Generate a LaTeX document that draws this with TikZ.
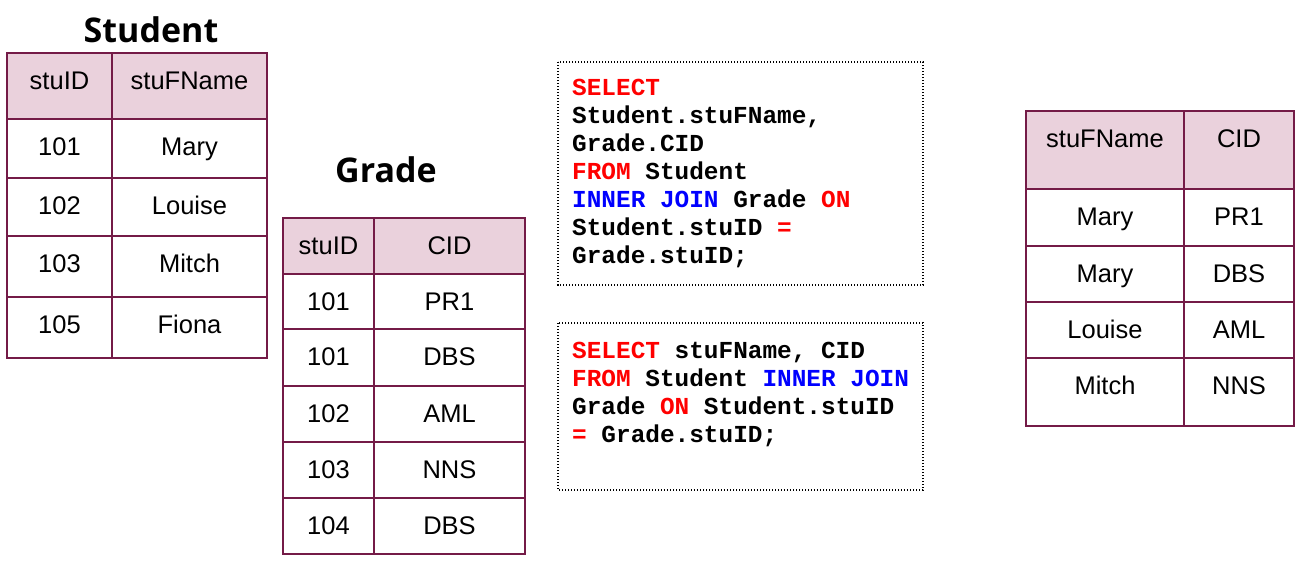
\documentclass[tikz,border=0pt]{standalone}
\usepackage{fontspec}
\setmainfont{Liberation Sans}
\newfontfamily\codefont{Liberation Mono}
\newfontfamily\titlefont{Open Sans}
\definecolor{tabline}{HTML}{741B47}
\definecolor{headpink}{HTML}{EAD1DC}
\definecolor{sqlred}{HTML}{FF0000}
\definecolor{sqlblue}{HTML}{0000FF}
\newcommand{\kwred}[1]{\textcolor{sqlred}{#1}}
\newcommand{\kwblue}[1]{\textcolor{sqlblue}{#1}}
\tikzset{
  cellrule/.style={draw=tabline, line width=1.2pt},
  tableframe/.style={draw=tabline, line width=1.6pt},
  headfill/.style={fill=headpink},
  celltext/.style={font=\fontsize{25.5}{28}\selectfont, anchor=base, inner sep=0pt},
  tabletitle/.style={font=\titlefont\bfseries\fontsize{34}{36}\selectfont, anchor=base, inner sep=0pt},
  codeline/.style={font=\codefont\bfseries\fontsize{24.4}{28}\selectfont, anchor=base west, inner sep=0pt},
  codebox/.style={draw=black, line width=1.2pt, dash pattern=on 1.2pt off 1.8pt}
}

\begin{document}
\begin{tikzpicture}[x=1pt, y=-1pt]
  \useasboundingbox (0,0) rectangle (1303,562);

  % Student table
  \node[tabletitle] (studenttitle) at (151,42) {Student};
  \fill[headfill] (7,53) rectangle (267,119);
  \foreach \y in {119,178,236,297}
    \draw[cellrule] (7,\y) -- (267,\y);
  \draw[cellrule] (112,53) -- (112,358);
  \draw[tableframe] (7,53) rectangle (267,358);
  \foreach \t/\a/\b [count=\i] in {53/stuID/stuFName, 119/101/Mary,
      178/102/Louise, 236/103/Mitch, 297/105/Fiona} {
    \node[celltext] (stu-\i-a) at (59.5,{\t+36.5}) {\a};
    \node[celltext] (stu-\i-b) at (189.5,{\t+36.5}) {\b};
  }

  % Grade table
  \node[tabletitle] (gradetitle) at (386,182) {Grade};
  \fill[headfill] (283,218) rectangle (525,274);
  \foreach \y in {274,329,386,442,498}
    \draw[cellrule] (283,\y) -- (525,\y);
  \draw[cellrule] (374,218) -- (374,554);
  \draw[tableframe] (283,218) rectangle (525,554);
  \foreach \t/\a/\b [count=\i] in {218/stuID/CID, 274/101/PR1,
      329/101/DBS, 386/102/AML, 442/103/NNS, 498/104/DBS} {
    \node[celltext] (grd-\i-a) at (328.5,{\t+36.5}) {\a};
    \node[celltext] (grd-\i-b) at (449.5,{\t+36.5}) {\b};
  }

  % query with table prefixes
  \draw[codebox] (558,62) rectangle (923,285);
  \foreach \ln [count=\i] in {{\kwred{SELECT}}, {Student.stuFName,},
      {Grade.CID}, {\kwred{FROM} Student},
      {\kwblue{INNER JOIN} Grade \kwred{ON}}, {Student.stuID \kwred{=}},
      {Grade.stuID;}}
    \node[codeline] (sqla-\i) at (572,{95+28*(\i-1)}) {\ln};

  % short query
  \draw[codebox] (558,323) rectangle (923,490);
  \foreach \ln [count=\i] in {{\kwred{SELECT} stuFName, CID},
      {\kwred{FROM} Student \kwblue{INNER JOIN}},
      {Grade \kwred{ON} Student.stuID}, {\kwred{=} Grade.stuID;}}
    \node[codeline] (sqlb-\i) at (572,{358+28*(\i-1)}) {\ln};

  % result table
  \fill[headfill] (1026,111) rectangle (1294,189);
  \foreach \y in {189,246,302,358}
    \draw[cellrule] (1026,\y) -- (1294,\y);
  \draw[cellrule] (1184,111) -- (1184,426);
  \draw[tableframe] (1026,111) rectangle (1294,426);
  \foreach \t/\a/\b [count=\i] in {111/stuFName/CID, 189/Mary/PR1,
      246/Mary/DBS, 302/Louise/AML, 358/Mitch/NNS} {
    \node[celltext] (res-\i-a) at (1105,{\t+36.5}) {\a};
    \node[celltext] (res-\i-b) at (1239,{\t+36.5}) {\b};
  }
\end{tikzpicture}
\end{document}
